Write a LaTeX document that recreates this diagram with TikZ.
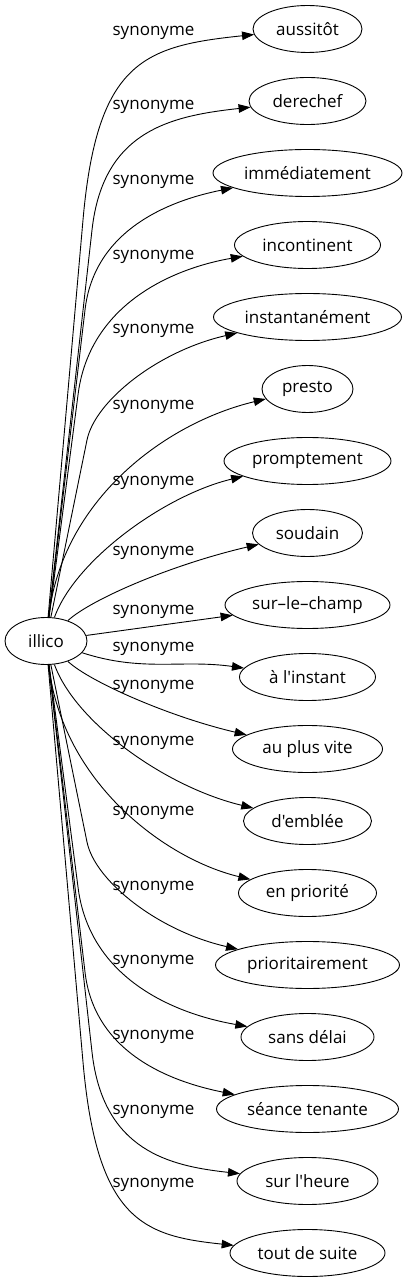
\documentclass[tikz,border=0pt]{standalone}
\usepackage{fontspec}
\setmainfont{Open Sans}[Ligatures=TeXOff]
\usetikzlibrary{shapes.geometric,arrows.meta}
\begin{document}
\begin{tikzpicture}[x=1pt,y=1pt,
  word/.style={ellipse,draw,line width=0.9pt,minimum height=47pt,inner sep=0pt,font=\fontsize{17}{20}\selectfont},
  lab/.style={font=\fontsize{17}{20}\selectfont,inner sep=0pt},
  edge/.style={line width=0.9pt,-{Triangle[length=12pt,width=8.5pt]}}]
\fill[white] (0,-642) rectangle (409,641);
\useasboundingbox (0,-642) rectangle (409,641);
% nodes
\node[word,minimum width=82pt] (illico) at (46,0) {illico};
\node[word,minimum width=109pt] (n1) at (307.5,612) {aussitôt};
\node[word,minimum width=117pt] (n2) at (307.5,540) {derechef};
\node[word,minimum width=189pt] (n3) at (307.5,468) {immédiatement};
\node[word,minimum width=146pt] (n4) at (307.5,396) {incontinent};
\node[word,minimum width=188pt] (n5) at (307.5,324) {instantanément};
\node[word,minimum width=91pt] (n6) at (307.5,252) {presto};
\node[word,minimum width=167pt] (n7) at (307.5,180) {promptement};
\node[word,minimum width=110pt] (n8) at (307.5,108) {soudain};
\node[word,minimum width=165pt] (n9) at (307.5,36) {sur–le–champ};
\node[word,minimum width=136pt] (n10) at (307.5,-36) {à l'instant};
\node[word,minimum width=150pt] (n11) at (307.5,-108) {au plus vite};
\node[word,minimum width=128pt] (n12) at (307.5,-180) {d'emblée};
\node[word,minimum width=138pt] (n13) at (307.5,-252) {en priorité};
\node[word,minimum width=184pt] (n14) at (307.5,-324) {prioritairement};
\node[word,minimum width=133pt] (n15) at (307.5,-396) {sans délai};
\node[word,minimum width=182pt] (n16) at (307.5,-468) {séance tenante};
\node[word,minimum width=141pt] (n17) at (307.5,-540) {sur l'heure};
\node[word,minimum width=155pt] (n18) at (307.5,-612) {tout de suite};
% labels
\node[lab] (l1) at (153.5,608) {synonyme};
\node[lab] (l2) at (153.5,534) {synonyme};
\node[lab] (l3) at (153.5,459) {synonyme};
\node[lab] (l4) at (153.5,384) {synonyme};
\node[lab] (l5) at (153.5,310) {synonyme};
\node[lab] (l6) at (153.5,234) {synonyme};
\node[lab] (l7) at (153.5,158) {synonyme};
\node[lab] (l8) at (153.5,88) {synonyme};
\node[lab] (l9) at (153.5,29) {synonyme};
\node[lab] (l10) at (153.5,-8) {synonyme};
\node[lab] (l11) at (153.5,-46) {synonyme};
\node[lab] (l12) at (153.5,-102) {synonyme};
\node[lab] (l13) at (153.5,-172) {synonyme};
\node[lab] (l14) at (153.5,-247) {synonyme};
\node[lab] (l15) at (153.5,-321) {synonyme};
\node[lab] (l16) at (153.5,-396) {synonyme};
\node[lab] (l17) at (153.5,-471) {synonyme};
\node[lab] (l18) at (153.5,-544) {synonyme};
% upper edges
\draw[edge] (illico) -- (83,421) .. controls (97,580) and (144,595) .. (n1);
\draw[edge] (illico) -- (92,411) .. controls (103,510) and (170,525) .. (n2);
\draw[edge] (illico) -- (85,331) .. controls (94,410) and (167,440) .. (n3);
\draw[edge] (illico) -- (78,246) .. controls (89,335) and (170,372) .. (n4);
\draw[edge] (illico) -- (87,201) .. controls (95,240) and (158,290) .. (n5);
\draw[edge] (illico) .. controls (62,141) and (165,218) .. (n6);
\draw[edge] (illico) .. controls (75,81) and (165,146) .. (n7);
\draw[edge] (illico) .. controls (90,41) and (170,76) .. (n8);
\draw[edge] (illico) -- (n9);
\draw[edge] (illico) to[out=-18,in=172] (n10);
% lower edges
\draw[edge] (illico) .. controls (90,-41) and (170,-76) .. (n11);
\draw[edge] (illico) .. controls (75,-81) and (165,-146) .. (n12);
\draw[edge] (illico) .. controls (62,-141) and (165,-218) .. (n13);
\draw[edge] (illico) -- (87,-201) .. controls (95,-240) and (158,-290) .. (n14);
\draw[edge] (illico) -- (78,-246) .. controls (89,-335) and (170,-372) .. (n15);
\draw[edge] (illico) -- (85,-331) .. controls (94,-410) and (167,-440) .. (n16);
\draw[edge] (illico) -- (92,-411) .. controls (103,-510) and (170,-525) .. (n17);
\draw[edge] (illico) -- (83,-421) .. controls (97,-580) and (144,-595) .. (n18);
\end{tikzpicture}
\end{document}
